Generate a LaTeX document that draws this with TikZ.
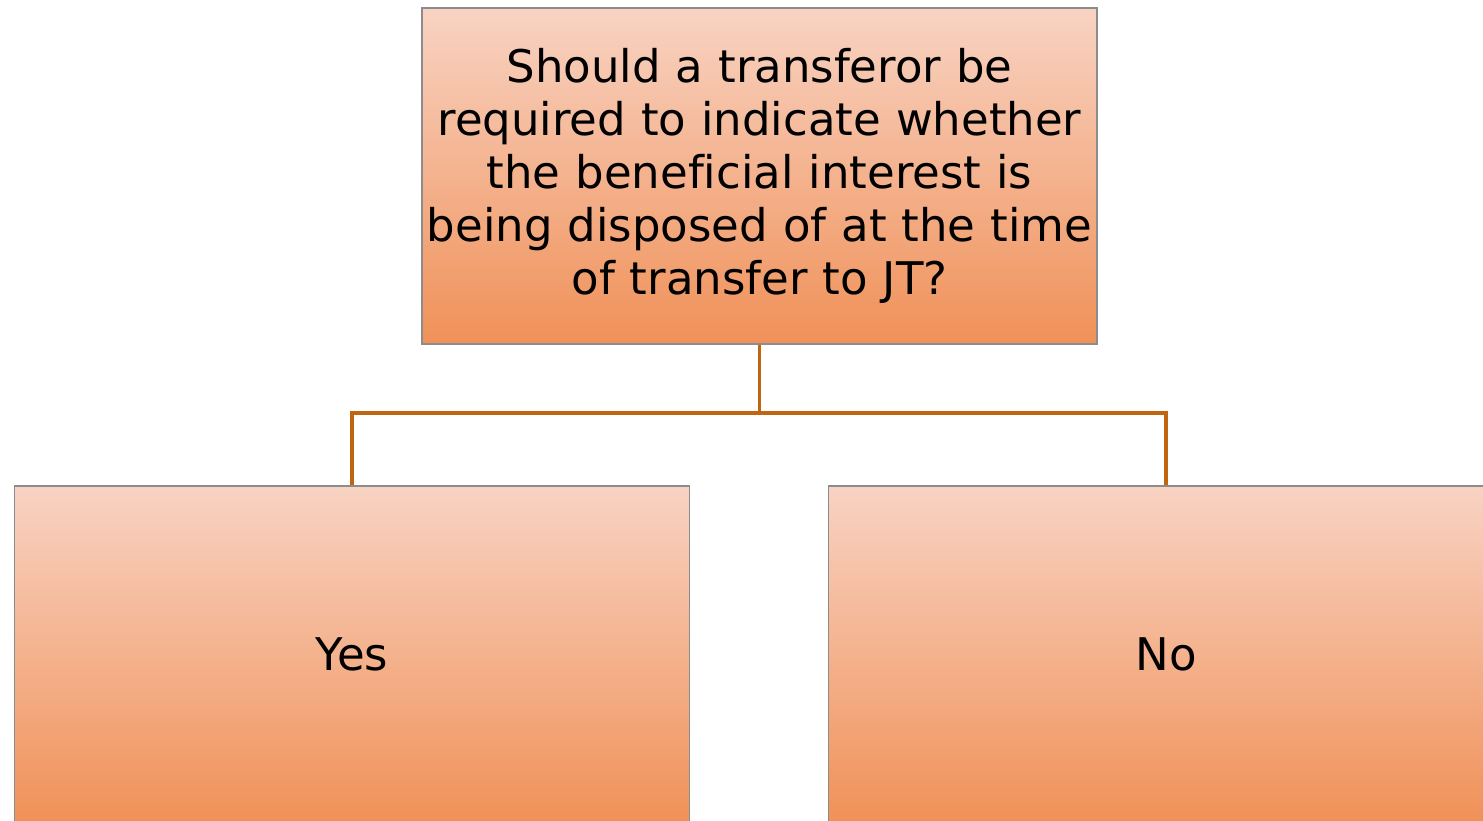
\documentclass[tikz,border=0pt]{standalone}
\usepackage{fontspec}
\setmainfont[Ligatures=NoCommon]{DejaVu Sans}
\definecolor{boxtop}{RGB}{248,211,195}
\definecolor{boxbottom}{RGB}{240,145,88}
\definecolor{boxedge}{RGB}{140,140,140}
\definecolor{linkline}{RGB}{192,102,16}
\tikzset{
  qbox/.style={rectangle, draw=boxedge, line width=1.2pt,
    top color=boxtop, bottom color=boxbottom,
    minimum width=675pt, minimum height=336pt, inner sep=0pt,
    align=center, font=\fontsize{45}{53}\selectfont},
  link/.style={draw=linkline, line width=3.2pt}
}
\begin{document}
\begin{tikzpicture}[x=1pt,y=-1pt]
  \useasboundingbox (0,0) rectangle (1483,820);
  \clip (0,0) rectangle (1483,820);
  % question box
  \node[qbox, text width=672pt] (question) at (759.5,176)
    {Should a transferor be\\required to indicate whether\\the beneficial interest is\\being disposed of at the time\\of transfer to JT?};
  % answer boxes
  \node[qbox] (yes) at (352,654) {Yes};
  \node[qbox] (no) at (1166,654) {No};
  % connectors
  \coordinate (fork) at (759.5,413);
  \draw[link] (question.south) -- (fork) -| (yes.north);
  \draw[link] (fork) -| (no.north);
\end{tikzpicture}
\end{document}
